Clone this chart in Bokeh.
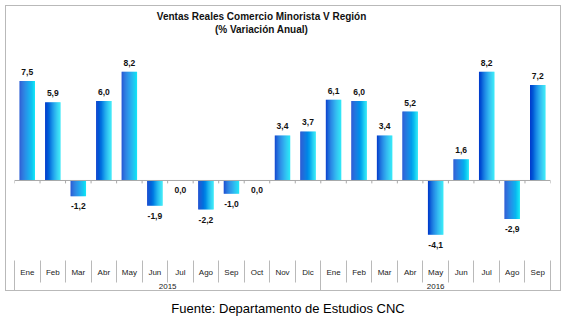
import numpy as np
from bokeh.plotting import figure
from bokeh.models import Range1d, LinearAxis, FixedTicker, Span, Div, Spacer
from bokeh.layouts import column, row
from bokeh.embed import file_html
from bokeh.resources import INLINE
from bokeh.core.properties import value

# ---------------- data ----------------
months = ["Ene", "Feb", "Mar", "Abr", "May", "Jun", "Jul", "Ago", "Sep", "Oct", "Nov", "Dic",
          "Ene", "Feb", "Mar", "Abr", "May", "Jun", "Jul", "Ago", "Sep"]
years = ["2015"] * 12 + ["2016"] * 9
variation = [7.5, 5.9, -1.2, 6.0, 8.2, -1.9, 0.0, -2.2, -1.0, 0.0, 3.4, 3.7,
             6.1, 6.0, 3.4, 5.2, -4.1, 1.6, 8.2, -2.9, 7.2]
title_lines = ["Ventas Reales Comercio Minorista V Región", "(% Variación Anual)"]
source_note = "Fuente: Departamento de Estudios CNC"

FONT = "Liberation Sans"
n = len(months)
idx = np.arange(n)
bounds = [i - 0.5 for i in range(n + 1)]

year_names = []
for y in years:
    if y not in year_names:
        year_names.append(y)
year_centers = [float(np.mean([i for i, y in enumerate(years) if y == yn])) for yn in year_names]
group_bounds = [-0.5] + [i - 0.5 for i in range(1, n) if years[i] != years[i - 1]] + [n - 0.5]

Y_TOP = 13.13
p = figure(width=556, height=286, x_range=Range1d(-0.5, n - 0.5), y_range=Range1d(-6.04, Y_TOP),
           output_backend="svg", toolbar_location=None, title=None,
           x_axis_location=None, y_axis_location=None,
           min_border_left=8, min_border_right=12, min_border_top=0, min_border_bottom=32)
p.outline_line_color = None
p.background_fill_color = "white"
p.border_fill_color = "white"
for g in p.grid:
    g.visible = False
p.styles = {"border": "1px solid #b9b9b9"}

# title (two centred bold lines in the top band of the plot)
p.text(x=[9.18, 9.18], y=[12.38, 11.40], text=title_lines,
       text_font=value(FONT), text_font_style="bold", text_font_size="10px",
       text_align="center", text_baseline="middle", text_color="#111")

# zero line and small ticks
p.add_layout(Span(location=0, dimension="width", line_color="#a8a8a8", line_width=1))
p.segment(x0=bounds, y0=[0] * len(bounds), x1=bounds, y1=[-0.22] * len(bounds), line_color="#a8a8a8")

# gradient bars (thin slices, dark blue -> cyan)
N = 16
w = 0.6
stops = [(0.0, (0, 62, 205)), (0.5, (0, 140, 232)), (1.0, (20, 226, 246))]


def grad(t):
    for (t0, c0), (t1, c1) in zip(stops[:-1], stops[1:]):
        if t0 <= t <= t1:
            f = (t - t0) / (t1 - t0)
            return "#%02x%02x%02x" % tuple(int(round(a + (b - a) * f)) for a, b in zip(c0, c1))
    return "#%02x%02x%02x" % stops[-1][1]


for k in range(N):
    t = k / (N - 1)
    xs = [i - w / 2 + (k + 0.5) * w / N for i in idx]
    p.vbar(x=xs, top=variation, bottom=0, width=w / N * 1.15, fill_color=grad(t), line_color=None)

# value labels
lab = [f"{v:.1f}".replace(".", ",") for v in variation]
pos = [i for i, v in enumerate(variation) if v > 0]
neg = [i for i, v in enumerate(variation) if v <= 0]
p.text(x=[idx[i] for i in pos], y=[variation[i] for i in pos], text=[lab[i] for i in pos],
       text_font=value(FONT), text_font_style="bold", text_font_size="8.5px",
       text_align="center", text_baseline="bottom", y_offset=-6, text_color="#111")
p.text(x=[idx[i] for i in neg], y=[variation[i] for i in neg], text=[lab[i] for i in neg],
       text_font=value(FONT), text_font_style="bold", text_font_size="8.5px",
       text_align="center", text_baseline="top", y_offset=7, text_color="#111")

# month axis (minor ticks act as separators)
ax1 = LinearAxis(ticker=FixedTicker(ticks=[int(i) for i in idx], minor_ticks=bounds),
                 major_label_overrides={int(i): m for i, m in enumerate(months)})
ax1.axis_line_color = None
ax1.major_tick_line_color = None
ax1.major_tick_in = 0
ax1.major_tick_out = 0
ax1.minor_tick_in = 0
ax1.minor_tick_out = 22
ax1.minor_tick_line_color = "#b9b9b9"
ax1.major_label_standoff = -15
ax1.major_label_text_font = FONT
ax1.major_label_text_font_size = "8px"
ax1.major_label_text_color = "#222"
p.add_layout(ax1, "below")

# year axis
ax2 = LinearAxis(ticker=FixedTicker(ticks=year_centers, minor_ticks=group_bounds),
                 major_label_overrides={c: yn for c, yn in zip(year_centers, year_names)})
ax2.axis_line_color = None
ax2.major_tick_line_color = None
ax2.major_tick_in = 0
ax2.major_tick_out = 0
ax2.minor_tick_in = 0
ax2.minor_tick_out = 15
ax2.minor_tick_line_color = "#b9b9b9"
ax2.major_label_standoff = -11
ax2.major_label_text_font = FONT
ax2.major_label_text_font_size = "8px"
ax2.major_label_text_color = "#222"
p.add_layout(ax2, "below")

note = Div(text=source_note, width=556, height=26,
           styles={"font-family": "'Liberation Sans', Arial, sans-serif", "font-size": "13px",
                   "color": "#000", "text-align": "center", "line-height": "26px"})

layout = row(Spacer(width=5), column(Spacer(height=5), p, note))

open("out.html", "w").write(file_html(layout, INLINE))
